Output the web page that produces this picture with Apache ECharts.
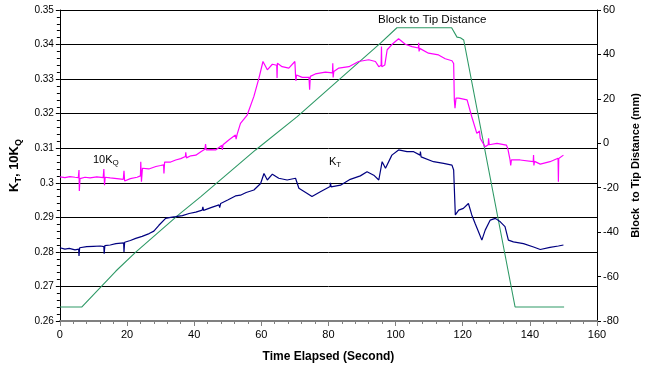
<!DOCTYPE html>
<html>
<head>
<meta charset="utf-8">
<script src="https://cdn.jsdelivr.net/npm/echarts@6/dist/echarts.min.js"></script>
<style>html,body{margin:0;padding:0;background:#fff}#c{width:655px;height:369px}</style>
</head>
<body>
<div id="c"></div>
<script>
// ---- data ----
const kqTime = [0,1.5,3,4.5,5.5,5.7,5.8,6.0,7.5,9,11,12.9,13.1,13.3,13.5,15,17,18.9,19.1,19.3,19.6,21,23,24.0,24.1,24.3,24.6,26.5,28.6,30,30.9,31.0,31.2,31.5,33,34.5,36,37.4,37.5,37.7,39,40.5,42,43.2,43.4,43.6,45,46.4,48.2,48.4,48.6,50.5,52.3,52.5,52.8,53.8,54.3,55.8,57.8,
  59.3,60.5,61.8,63.3,64.6,64.7,64.8,66.2,68.2,70.0,70.2,70.3,70.5,72.2,74.2,74.4,74.6,76.1,79.1,81.2,81.3,81.4,81.6,83.1,86.1,89.0,92.0,94.0,95.0,95.7,95.8,95.9,96.8,97.5,98.9,100.9,102.9,104.9,106.8,106.9,107.0,107.2,109.8,112.8,114.8,116.8,117.3,
  117.5,117.7,118.0,118.8,121.3,122.7,124.2,125.0,125.2,126.7,127.6,127.7,127.9,130.2,133.0,133.4,134.1,134.3,134.5,137.1,141.0,141.1,141.2,141.4,143.1,146,148.4,148.5,148.6,150];
const kqValues = [0.3017,0.3015,0.3018,0.3016,0.3015,0.3037,0.2976,0.3012,0.3016,0.3014,0.3017,0.3015,0.3040,0.2993,0.3016,0.3014,0.3012,0.3010,0.3035,0.3005,0.3010,0.3012,0.3016,0.3020,0.3061,0.3003,0.3042,0.3040,0.3047,0.3050,0.3052,0.3027,0.3060,0.3056,0.3060,0.3066,0.3070,0.3076,0.3088,0.3072,0.3078,0.3080,0.3090,0.3097,0.3112,0.3095,0.3096,0.3095,0.3108,0.3095,0.3110,0.3125,0.3138,0.3126,0.3140,0.3172,0.3172,0.3196,0.3250,
  0.3303,0.3351,0.3327,0.3343,0.3340,0.3303,0.3346,0.3336,0.3332,0.3351,0.3312,0.3295,0.3312,0.3305,0.3305,0.3269,0.3308,0.3315,0.3320,0.3318,0.3346,0.3305,0.3322,0.3332,0.3336,0.3351,0.3356,0.3351,0.3336,0.3340,0.3394,0.3336,0.3341,0.3385,0.3400,0.3417,0.3401,0.3394,0.3390,0.3405,0.3380,0.3389,0.3375,0.3370,0.3359,0.3353,0.3345,
  0.3240,0.3216,0.3245,0.3245,0.3240,0.3191,0.3143,0.3150,0.3129,0.3104,0.3110,0.3129,0.3110,0.3114,0.3109,0.3100,0.3066,0.3050,0.3066,0.3066,0.3061,0.3080,0.3050,0.3062,0.3054,0.3061,0.3071,0.3003,0.3070,0.3080];

const ktTime = [0,1.5,2.8,4.5,5.6,5.7,5.9,8,10,12.1,13.1,13.2,13.4,15,16.7,19.0,19.1,19.3,21,22.6,24.5,26.6,28,29.5,31.5,33,34.5,36.5,38.5,40.5,42.4,42.6,42.8,45,47.4,47.6,47.9,50,52.3,53.8,55.5,57.8,59.8,60.8,61.8,63.3,65.2,67.7,70.2,71.2,73.7,75.1,77.6,80.5,80.6,80.8,83.6,86.5,89.5,91.5,93.5,95,96,97,98.9,100.9,103.4,105.4,107.3,107.4,107.6,111.3,114.3,116.8,117.3,117.8,118.8,120.2,121.7,122.7,123.7,124.7,125.7,126.7,128.2,129.7,131.2,132.6,133.6,135.1,138.1,141.1,143.1,146,148.5,150];
const ktValues = [0.2812,0.2808,0.2810,0.2806,0.2808,0.2788,0.2812,0.2815,0.2816,0.2817,0.2815,0.2795,0.2818,0.2820,0.2824,0.2826,0.2800,0.2828,0.2833,0.2839,0.2845,0.2853,0.2860,0.2877,0.2897,0.2900,0.2902,0.2905,0.2911,0.2915,0.2921,0.2930,0.2920,0.2928,0.2936,0.2928,0.2940,0.2950,0.2962,0.2964,0.2972,0.2979,0.2998,0.3027,0.3008,0.3025,0.3013,0.3008,0.3013,0.2984,0.2969,0.2960,0.2974,0.2989,0.3000,0.2988,0.2993,0.3010,0.3020,0.3032,0.3022,0.3008,0.3061,0.3042,0.3080,0.3095,0.3090,0.3090,0.3080,0.3090,0.3075,0.3061,0.3056,0.3051,0.3037,0.2907,0.2921,0.2926,0.2940,0.2907,0.2882,0.2858,0.2834,0.2863,0.2892,0.2897,0.2887,0.2873,0.2834,0.2829,0.2824,0.2814,0.2807,0.2813,0.2817,0.2820];

const distTime = [0,6.5,16.7,22.6,35.5,41.9,58.3,70.7,95.5,100.4,116.7,118.3,119.3,120.3,135.6,150.2];
const distValues = [-73.7,-73.7,-57.5,-49,-32,-24.1,-3,12,45.1,52,52,47.8,47.5,46.5,-73.7,-73.7];

const xTicks = {min:0, max:160, step:20};
const leftTicks = {min:0.26, max:0.35, step:0.01};
const rightTicks = {min:-80, max:60, step:20};

const zip = (a,b) => a.map((t,i)=>[t,b[i]]);
const FONT = '"Liberation Sans", Arial, sans-serif';

const chart = echarts.init(document.getElementById('c'), null, {renderer:'canvas'});
chart.setOption({
  animation: false,
  backgroundColor: '#fff',
  textStyle: {fontFamily: FONT},
  grid: {left: 59, right: 58, top: 10, bottom: 48, containLabel: false},
  xAxis: {
    type: 'value', min: xTicks.min, max: xTicks.max, interval: xTicks.step,
    name: 'Time Elapsed (Second)', nameLocation: 'middle', nameGap: 30,
    nameTextStyle: {fontFamily: FONT, fontWeight: 'bold', fontSize: 12, color: '#000'},
    axisLine: {show: true, onZero: false, lineStyle: {color: '#808080', width: 2}},
    axisTick: {show: true, length: 5, lineStyle: {color: '#808080', width: 1}},
    minorTick: {show: true, splitNumber: 5, length: 3, lineStyle: {color: '#808080'}},
    axisLabel: {fontFamily: FONT, fontSize: 11, color: '#000', margin: 8},
    splitLine: {show: false}
  },
  yAxis: [{
    type: 'value', min: leftTicks.min, max: leftTicks.max, interval: leftTicks.step,
    position: 'left',
    name: '{a|K}{s|T}{a|, 10K}{s|Q}', nameLocation: 'middle', nameGap: 34, nameRotate: 90,
    nameTextStyle: {fontFamily: FONT, fontWeight: 'bold', fontSize: 13, color: '#000',
      rich: {
        a: {fontFamily: FONT, fontWeight: 'bold', fontSize: 13, lineHeight: 18, color: '#000'},
        s: {fontFamily: FONT, fontWeight: 'bold', fontSize: 9, lineHeight: 11, verticalAlign: 'bottom', color: '#000'}
      }},
    axisLine: {show: true, lineStyle: {color: '#000', width: 1}},
    axisTick: {show: true, length: 4, lineStyle: {color: '#000'}},
    minorTick: {show: true, splitNumber: 5, length: 3, lineStyle: {color: '#000'}},
    axisLabel: {fontFamily: FONT, fontSize: 10, color: '#000', margin: 6},
    splitLine: {show: true, lineStyle: {color: '#000', width: 1}}
  }, {
    type: 'value', min: rightTicks.min, max: rightTicks.max, interval: rightTicks.step,
    position: 'right',
    name: 'Block  to Tip Distance (mm)', nameLocation: 'middle', nameGap: 33, nameRotate: 90,
    nameTextStyle: {fontFamily: FONT, fontWeight: 'bold', fontSize: 11, color: '#000'},
    axisLine: {show: true, lineStyle: {color: '#000', width: 1}},
    axisTick: {show: true, length: 4, lineStyle: {color: '#000'}},
    axisLabel: {fontFamily: FONT, fontSize: 11, color: '#000', margin: 6},
    splitLine: {show: false}
  }],
  series: [{
    name: '10KQ', type: 'line', yAxisIndex: 0, showSymbol: false, symbol: 'none',
    data: zip(kqTime, kqValues),
    lineStyle: {color: '#FF00FF', width: 1.2}, itemStyle: {color: '#FF00FF'}, z: 3
  }, {
    name: 'KT', type: 'line', yAxisIndex: 0, showSymbol: false, symbol: 'none',
    data: zip(ktTime, ktValues),
    lineStyle: {color: '#000080', width: 1.2}, itemStyle: {color: '#000080'}, z: 3
  }, {
    name: 'Block to Tip Distance', type: 'line', yAxisIndex: 1, showSymbol: false, symbol: 'none',
    data: zip(distTime, distValues),
    lineStyle: {color: '#2E9966', width: 1.1}, itemStyle: {color: '#2E9966'}, z: 2
  }],
  graphic: [{
    type: 'text', left: 93, top: 154,
    style: {text: '{a|10K}{s|Q}', fill: '#000',
      rich: {a: {fontFamily: FONT, fontSize: 11, lineHeight: 15, fill: '#000'},
             s: {fontFamily: FONT, fontSize: 8, lineHeight: 9, verticalAlign: 'bottom', fill: '#000'}}}
  }, {
    type: 'text', left: 329, top: 156,
    style: {text: '{a|K}{s|T}', fill: '#000',
      rich: {a: {fontFamily: FONT, fontSize: 11, lineHeight: 15, fill: '#000'},
             s: {fontFamily: FONT, fontSize: 8, lineHeight: 9, verticalAlign: 'bottom', fill: '#000'}}}
  }, {
    type: 'text', left: 378, top: 14,
    style: {text: 'Block to Tip Distance', fill: '#000', font: '11.6px "Liberation Sans", Arial, sans-serif'}
  }]
});
</script>
</body>
</html>
